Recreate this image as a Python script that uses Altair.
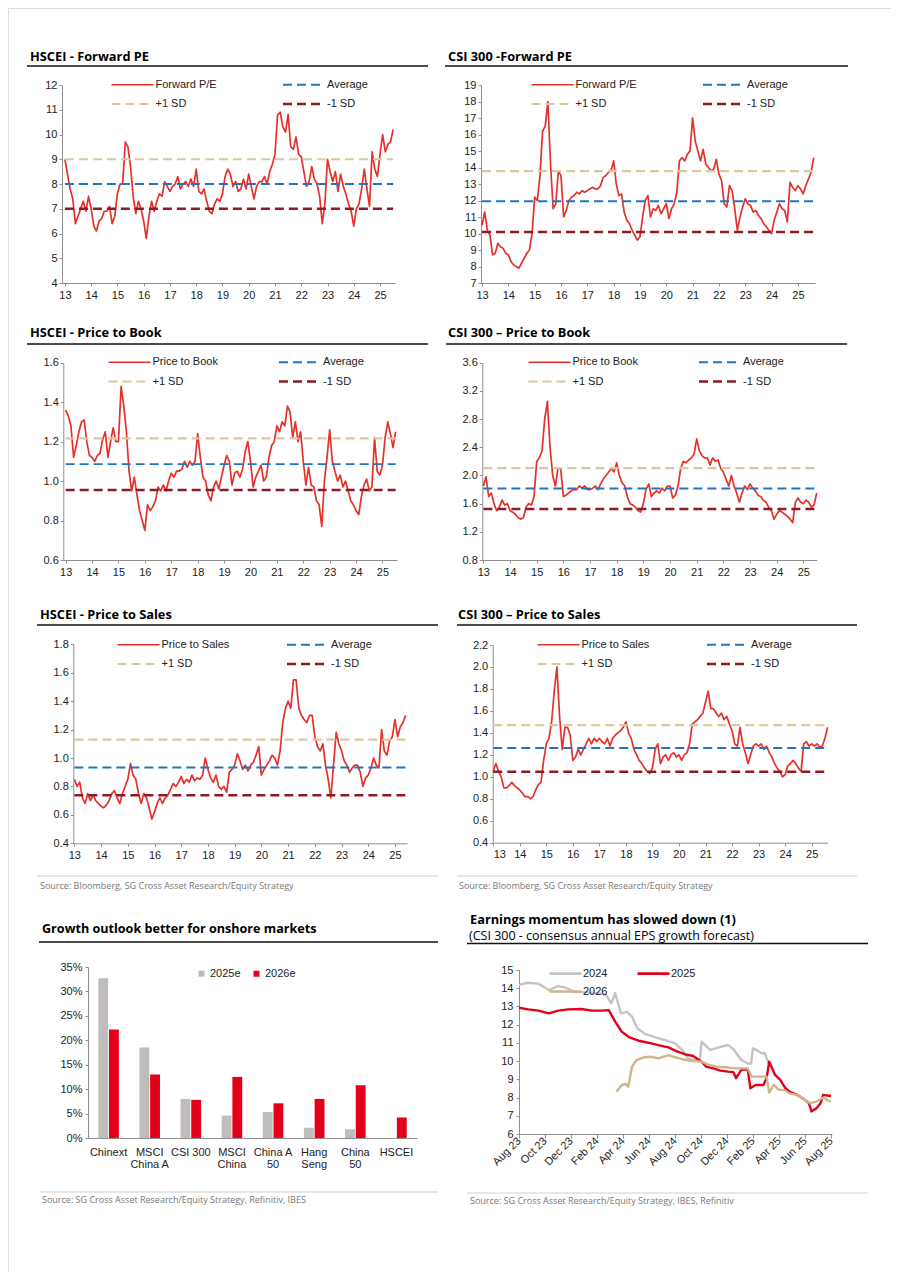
import altair as alt
import pandas as pd

# ---------------- data ----------------
YEARS = list(range(2013, 2026))
STEP = 0.1  # sampling grid of the valuation series, in years, starting 2013.0

hscei_pe = [
    9.0, 8.4, 7.8, 7.4, 6.4, 6.7, 7.0, 7.3, 6.9, 7.5,
    7.0, 6.3, 6.1, 6.5, 6.6, 6.9, 6.9, 7.1, 6.4, 6.7,
    7.6, 8.0, 8.0, 9.7, 9.5, 8.7, 7.5, 6.8, 7.3, 7.0,
    6.5, 5.8, 6.7, 7.3, 6.9, 7.3, 7.6, 7.5, 8.1, 7.9,
    7.7, 7.9, 8.0, 8.3, 7.8, 8.0, 8.1, 7.9, 8.2, 7.9,
    8.6, 7.7, 7.6, 7.8, 7.3, 6.9, 6.8, 7.2, 7.4, 7.3,
    7.6, 8.3, 8.6, 8.4, 7.9, 8.1, 7.7, 7.8, 8.2, 7.8,
    8.4, 7.9, 7.4, 7.9, 8.1, 8.1, 8.3, 8.0, 8.5, 8.8,
    9.2, 10.8, 10.9, 10.3, 10.1, 10.8, 9.5, 9.4, 9.9, 9.2,
    9.1, 8.5, 7.9, 8.1, 8.7, 8.2, 8.0, 7.5, 6.4, 7.2,
    9.0, 8.5, 8.1, 8.5, 7.7, 8.4, 7.9, 7.6, 7.2, 6.9,
    6.3, 7.0, 7.2, 7.8, 8.6, 7.8, 7.1, 9.3, 8.6, 8.3,
    9.2, 10.0, 9.3, 9.6, 9.7, 10.2]
csi_pe = [
    10.5, 11.3, 10.2, 9.9, 8.7, 8.8, 9.4, 9.2, 9.1, 8.8,
    8.7, 8.3, 8.1, 8.0, 7.9, 8.2, 8.5, 8.8, 9.0, 10.0,
    12.2, 12.0, 13.5, 16.2, 16.5, 18.0, 14.3, 11.5, 11.8, 13.8,
    13.5, 11.0, 11.4, 12.0, 12.2, 12.3, 12.5, 12.4, 12.6, 12.5,
    12.6, 12.7, 12.8, 12.7, 12.7, 12.9, 13.4, 13.5, 13.7, 13.8,
    14.4, 13.0, 12.3, 12.4, 11.3, 10.8, 10.6, 10.2, 9.9, 9.6,
    9.8, 11.0, 12.0, 12.3, 11.0, 11.5, 11.4, 11.7, 11.2, 11.5,
    11.8, 10.9, 11.5, 11.8, 12.5, 14.4, 14.6, 14.4, 14.8, 15.0,
    17.0, 15.6, 15.0, 14.4, 15.1, 14.2, 14.0, 13.8, 13.9, 14.5,
    13.6, 13.2, 11.8, 11.6, 12.9, 12.6, 11.5, 10.2, 11.0, 11.6,
    12.1, 11.8, 11.7, 11.3, 11.4, 11.1, 10.9, 10.6, 10.4, 10.2,
    10.0, 10.8, 11.3, 11.8, 11.5, 11.4, 10.7, 13.1, 12.8, 12.6,
    12.9, 12.7, 12.4, 12.9, 13.3, 13.7, 14.6]
hscei_pb = [
    1.36, 1.33, 1.28, 1.12, 1.18, 1.25, 1.30, 1.31, 1.20, 1.13,
    1.12, 1.10, 1.13, 1.14, 1.21, 1.25, 1.12, 1.20, 1.27, 1.20,
    1.20, 1.48, 1.38, 1.25, 1.05, 0.95, 1.02, 0.93, 0.85, 0.80,
    0.75, 0.88, 0.85, 0.87, 0.90, 0.97, 0.95, 0.98, 0.95, 1.00,
    1.04, 1.02, 1.05, 1.05, 1.06, 1.10, 1.07, 1.10, 1.08, 1.10,
    1.24, 1.12, 1.02, 1.00, 0.93, 0.90, 0.97, 1.00, 0.96, 1.02,
    1.08, 1.13, 1.10, 0.98, 1.04, 1.05, 1.02, 1.06, 1.15, 1.20,
    1.10, 0.97, 1.02, 1.05, 1.08, 1.00, 1.02, 1.12, 1.18, 1.20,
    1.28, 1.25, 1.30, 1.28, 1.38, 1.35, 1.22, 1.30, 1.20, 1.25,
    1.10, 0.98, 1.07, 0.98, 0.97, 0.90, 0.88, 0.77, 1.00, 1.12,
    1.26, 1.10, 1.05, 1.00, 1.03, 0.97, 1.00, 0.95, 0.90, 0.88,
    0.85, 0.83, 0.92, 0.98, 1.01, 0.95, 0.97, 1.22, 1.05, 1.03,
    1.08, 1.22, 1.30, 1.24, 1.17, 1.25]
csi_pb = [
    1.85, 1.98, 1.70, 1.75, 1.60, 1.50, 1.55, 1.65, 1.58, 1.60,
    1.50, 1.48, 1.45, 1.40, 1.38, 1.40, 1.55, 1.60, 1.58, 1.70,
    2.20, 2.25, 2.35, 2.80, 3.05, 2.40, 2.00, 1.85, 2.10, 2.10,
    1.70, 1.72, 1.75, 1.78, 1.80, 1.80, 1.85, 1.82, 1.85, 1.80,
    1.80, 1.82, 1.85, 1.80, 1.88, 1.95, 2.00, 2.05, 2.10, 2.05,
    2.18, 2.00, 1.90, 1.85, 1.70, 1.60, 1.58, 1.55, 1.50, 1.48,
    1.60, 1.80, 1.88, 1.70, 1.75, 1.78, 1.75, 1.82, 1.78, 1.85,
    1.85, 1.68, 1.72, 1.85, 2.10, 2.20, 2.18, 2.22, 2.25, 2.30,
    2.52, 2.35, 2.28, 2.25, 2.25, 2.15, 2.25, 2.20, 2.22, 2.10,
    2.05, 1.95, 1.85, 2.00, 1.85, 1.75, 1.62, 1.75, 1.85, 1.80,
    1.88, 1.82, 1.78, 1.72, 1.70, 1.65, 1.62, 1.55, 1.50, 1.38,
    1.45, 1.50, 1.48, 1.45, 1.42, 1.38, 1.33, 1.62, 1.68, 1.62,
    1.60, 1.65, 1.62, 1.55, 1.58, 1.75]
hscei_ps = [
    0.85, 0.80, 0.83, 0.72, 0.68, 0.75, 0.70, 0.74, 0.70, 0.68,
    0.66, 0.65, 0.67, 0.70, 0.75, 0.77, 0.72, 0.68, 0.75, 0.80,
    0.85, 0.96, 0.88, 0.85, 0.75, 0.68, 0.75, 0.72, 0.65, 0.57,
    0.62, 0.68, 0.72, 0.68, 0.72, 0.74, 0.78, 0.82, 0.80, 0.83,
    0.87, 0.82, 0.85, 0.83, 0.88, 0.84, 0.86, 0.85, 0.88, 1.00,
    0.92, 0.86, 0.83, 0.88, 0.80, 0.78, 0.80, 0.76, 0.90, 0.92,
    0.95, 1.03, 0.98, 0.92, 0.95, 0.91, 0.95, 0.97, 1.02, 1.08,
    0.88, 0.92, 0.95, 0.98, 1.02, 1.00, 0.95, 1.05, 1.25, 1.35,
    1.40, 1.35, 1.55, 1.55, 1.35, 1.30, 1.27, 1.25, 1.30, 1.30,
    1.15, 1.08, 1.05, 1.10, 0.95, 0.85, 0.72, 0.95, 1.18, 1.10,
    1.05, 0.98, 0.95, 0.90, 0.93, 0.95, 0.95, 0.90, 0.80, 0.86,
    0.88, 0.93, 1.00, 0.95, 0.93, 1.20, 1.05, 1.02, 1.12, 1.15,
    1.27, 1.15, 1.22, 1.25, 1.30]
csi_ps = [
    1.05, 1.12, 1.05, 1.00, 0.90, 0.90, 0.92, 0.95, 0.92, 0.90,
    0.88, 0.85, 0.82, 0.82, 0.80, 0.82, 0.88, 0.93, 0.95, 1.15,
    1.30, 1.35, 1.50, 1.78, 2.00, 1.55, 1.25, 1.45, 1.45, 1.38,
    1.15, 1.18, 1.25, 1.20, 1.25, 1.30, 1.35, 1.30, 1.35, 1.32,
    1.35, 1.32, 1.30, 1.35, 1.28, 1.35, 1.38, 1.40, 1.42, 1.45,
    1.50, 1.40, 1.35, 1.25, 1.20, 1.15, 1.12, 1.08, 1.05, 1.03,
    1.08, 1.25, 1.30, 1.12, 1.18, 1.20, 1.15, 1.20, 1.22, 1.18,
    1.20, 1.15, 1.20, 1.22, 1.30, 1.48, 1.50, 1.52, 1.55, 1.58,
    1.68, 1.78, 1.62, 1.62, 1.58, 1.55, 1.58, 1.52, 1.55, 1.48,
    1.42, 1.30, 1.28, 1.45, 1.30, 1.22, 1.12, 1.20, 1.28, 1.30,
    1.28, 1.30, 1.25, 1.28, 1.22, 1.18, 1.12, 1.08, 1.05, 1.00,
    1.02, 1.10, 1.12, 1.15, 1.12, 1.08, 1.05, 1.30, 1.32, 1.28,
    1.30, 1.28, 1.30, 1.27, 1.28, 1.35, 1.45]

# average, +1 SD, -1 SD
hscei_pe_bands = [8.0, 9.0, 7.0]
csi_pe_bands = [11.95, 13.78, 10.09]
hscei_pb_bands = [1.086, 1.217, 0.955]
csi_pb_bands = [1.815, 2.105, 1.525]
hscei_ps_bands = [0.933, 1.13, 0.738]
csi_ps_bands = [1.262, 1.47, 1.046]

bar_categories = ["Chinext", "MSCI|China A", "CSI 300", "MSCI|China", "China A|50",
                  "Hang|Seng", "China|50", "HSCEI"]
growth_2025e = [0.327, 0.185, 0.080, 0.046, 0.053, 0.021, 0.018, 0.0]
growth_2026e = [0.222, 0.130, 0.078, 0.125, 0.071, 0.080, 0.108, 0.042]

eps_tick_labels = ["Aug 23", "Oct 23", "Dec 23", "Feb 24", "Apr 24", "Jun 24", "Aug 24",
                   "Oct 24", "Dec 24", "Feb 25", "Apr 25", "Jun 25", "Aug 25"]
# months after Aug 2023
eps24_m = [0, 0.7, 1.5, 2.3, 3.0, 3.5, 4.3, 5.3, 6.4, 6.7, 7.1, 7.4, 7.85, 8.3, 8.7, 9.1,
           9.7, 10.5, 11.2, 12.0, 12.6, 13.0, 13.9, 14.05, 14.7, 15.1, 15.6, 16.1, 16.5,
           17.1, 17.6, 17.85, 18.0, 18.3, 18.7, 18.9, 19.2]
eps24_v = [14.18, 14.3, 14.25, 13.9, 14.12, 14.05, 13.8, 13.77, 13.68, 13.63, 13.17, 13.72,
           12.62, 12.7, 12.44, 11.8, 11.49, 11.3, 11.16, 10.97, 10.57, 10.15, 10.0, 11.07,
           10.61, 10.7, 10.8, 10.88, 10.65, 10.06, 9.87, 9.87, 10.7, 10.6, 10.42, 10.45, 9.87]
eps25_m = [0, 0.7, 1.5, 2.3, 3.0, 3.8, 4.8, 5.6, 6.4, 6.9, 7.4, 7.9, 8.5, 9.2, 9.95, 10.7,
           11.5, 12.1, 12.8, 13.4, 14.05, 14.4, 14.95, 15.5, 16.1, 16.5, 16.7, 17.1, 17.6,
           17.8, 18.2, 18.8, 19.05, 19.25, 19.7, 20.1, 20.5, 20.8, 21.4, 22.0, 22.3, 22.5,
           22.9, 23.2, 23.4, 23.8, 24.0]
eps25_v = [12.93, 12.84, 12.77, 12.62, 12.77, 12.84, 12.86, 12.77, 12.77, 12.8, 12.17, 11.62,
           11.3, 11.12, 11.01, 10.88, 10.75, 10.55, 10.37, 10.28, 9.97, 9.7, 9.6, 9.48, 9.42,
           9.39, 9.06, 9.52, 9.55, 8.51, 8.69, 8.69, 9.06, 9.97, 9.24, 8.97, 8.51, 8.33,
           8.15, 7.87, 7.69, 7.24, 7.42, 7.69, 8.15, 8.1, 8.1]
eps26_m = [7.5, 7.9, 8.2, 8.4, 8.7, 9.05, 9.6, 10.2, 10.7, 11.5, 11.9, 12.6, 13.15, 14.05,
           14.6, 15.2, 16.0, 16.6, 17.6, 17.9, 19.05, 19.25, 19.6, 19.95, 20.5, 20.8, 21.4,
           22.0, 22.4, 22.9, 23.4, 23.8, 24.0]
eps26_v = [8.32, 8.69, 8.75, 8.6, 9.7, 10.06, 10.21, 10.24, 10.15, 10.33, 10.24, 10.1, 10.02,
           9.97, 9.79, 9.7, 9.66, 9.6, 9.6, 9.15, 9.15, 8.27, 8.69, 8.45, 8.38, 8.23, 8.15,
           7.87, 7.69, 7.78, 8.0, 7.83, 7.78]

# ---------------- style / layout ----------------
OFF = 8          # page margin: page px -> chart px
W, H = 883, 1264
AX_FONT = "Liberation Sans"
T_FONT = "Open Sans"
RED, BLUE, BEIGE, DARKRED = "#e5312b", "#1f74c4", "#dcc79f", "#8e1b22"
ONE = pd.DataFrame({"k": [0]})
WIDE_STROKE = "M-2,0H2"   # legend line symbol twice as long as its nominal size


def axis_common(**kw):
    base = dict(grid=False, domainColor="#8f8f8f", tickColor="#8f8f8f", tickSize=3,
                labelFont=AX_FONT, labelFontSize=11, labelColor="#222222", title=None)
    base.update(kw)
    return alt.Axis(**base)


def ts_panel(values, label, bands, xdom, xr, ydom, yr, yticks, yfmt, lx, ly, colpad):
    t = [round(2013 + i * STEP, 2) for i in range(len(values))]
    rows = [{"t": a, "v": b, "s": label} for a, b in zip(t, values)]
    for name, val in zip(["Average", "+1 SD", "-1 SD"], bands):
        rows += [{"t": t[0], "v": val, "s": name}, {"t": t[-1], "v": val, "s": name}]
    df = pd.DataFrame(rows)
    order = [label, "Average", "+1 SD", "-1 SD"]
    leg = alt.Legend(orient="none", legendX=lx - OFF + 10.5, legendY=ly - OFF, columns=2,
                     direction="horizontal", columnPadding=colpad + 3.5, rowPadding=2, title=None,
                     symbolType=WIDE_STROKE, symbolSize=441, symbolStrokeWidth=2.4,
                     labelFont=AX_FONT, labelFontSize=11, labelColor="#222222", labelOffset=11)
    return alt.Chart(df).mark_line(strokeJoin="round").encode(
        x=alt.X("t:Q", title=None,
                scale=alt.Scale(domain=xdom, range=[xr[0] - OFF, xr[1] - OFF], nice=False, zero=False),
                axis=axis_common(orient="bottom", offset=yr[0] - OFF - H, values=YEARS,
                                 labelExpr="datum.value - 2000", labelPadding=3)),
        y=alt.Y("v:Q", title=None,
                scale=alt.Scale(domain=ydom, range=[yr[0] - OFF, yr[1] - OFF], nice=False, zero=False),
                axis=axis_common(orient="left", offset=-(xr[0] - OFF), values=yticks, format=yfmt,
                                 labelPadding=2)),
        color=alt.Color("s:N", scale=alt.Scale(domain=order, range=[RED, BLUE, BEIGE, DARKRED]),
                        legend=leg),
        strokeDash=alt.StrokeDash("s:N", scale=alt.Scale(domain=order,
                                                          range=[[1, 0], [9, 5], [9, 5], [9, 5]]),
                                  legend=leg),
        strokeWidth=alt.StrokeWidth("s:N", scale=alt.Scale(domain=order, range=[1.7, 2.5, 2.5, 2.5]),
                                    legend=None),
    )


def text(s, x, y, size, weight="normal", color="#000000", font=T_FONT):
    return alt.Chart(ONE).mark_text(text=s, align="left", baseline="alphabetic", fontSize=size,
                                    fontWeight=weight, color=color, font=font).encode(
        x=alt.value(x - OFF), y=alt.value(y - OFF))


def hrule(x1, x2, y, color="#111111", width=1.4):
    return alt.Chart(ONE).mark_rule(color=color, strokeWidth=width).encode(
        x=alt.value(x1 - OFF), x2=alt.value(x2 - OFF), y=alt.value(y - OFF))


LY1, LY2, LY3 = 73, 350.5, 633
p1 = ts_panel(hscei_pe, "Forward P/E", hscei_pe_bands, [2012.89, 2025.57], [62, 395],
              [4, 12], [283, 85], list(range(4, 13)), "d", 110, LY1, 57)
p2 = ts_panel(csi_pe, "Forward P/E", csi_pe_bands, [2012.96, 2025.65], [481, 815],
              [7, 19], [283, 85], list(range(7, 20)), "d", 530, LY1, 57)
p3 = ts_panel(hscei_pb, "Price to Book", hscei_pb_bands, [2012.91, 2025.55], [63.3, 397],
              [0.6, 1.6], [560, 362.7], [0.6, 0.8, 1.0, 1.2, 1.4, 1.6], ".1f", 107, LY2, 52)
p4 = ts_panel(csi_pb, "Price to Book", csi_pb_bands, [2012.96, 2025.5], [482.3, 816.7],
              [0.8, 3.6], [560, 362.7], [0.8, 1.2, 1.6, 2.0, 2.4, 2.8, 3.2, 3.6], ".1f", 527, LY2, 52)
p5 = ts_panel(hscei_ps, "Price to Sales", hscei_ps_bands, [2012.96, 2025.45], [73.3, 407],
              [0.4, 1.8], [843.3, 644.3], [0.4, 0.6, 0.8, 1.0, 1.2, 1.4, 1.6, 1.8], ".1f", 116, LY3, 49)
p6 = ts_panel(csi_ps, "Price to Sales", csi_ps_bands, [2012.98, 2025.6], [492.7, 827.6],
              [0.4, 2.2], [842.7, 645], [0.4, 0.6, 0.8, 1.0, 1.2, 1.4, 1.6, 1.8, 2.0, 2.2], ".1f",
              536, LY3, 49)

# bar chart
bar_rows = []
for c, a, b in zip(bar_categories, growth_2025e, growth_2026e):
    bar_rows += [{"cat": c, "yr": "2025e", "g": a}, {"cat": c, "yr": "2026e", "g": b}]
bars = alt.Chart(pd.DataFrame(bar_rows)).mark_bar().encode(
    x=alt.X("cat:N", sort=bar_categories, title=None,
            scale=alt.Scale(domain=bar_categories, range=[88 - OFF, 417 - OFF],
                            paddingInner=0.5, paddingOuter=0.25),
            axis=axis_common(orient="bottom", offset=(1138 - OFF) - H, labelAngle=0, ticks=False,
                             labelExpr="split(datum.label, '|')", labelPadding=8,
                             labelLineHeight=12)),
    xOffset=alt.XOffset("yr:N", sort=["2025e", "2026e"], scale=alt.Scale(paddingInner=0.08)),
    y=alt.Y("g:Q", title=None,
            scale=alt.Scale(domain=[0, 0.35], range=[1138 - OFF, 967 - OFF], nice=False),
            axis=axis_common(orient="left", offset=-(88 - OFF),
                             values=[0, 0.05, 0.10, 0.15, 0.20, 0.25, 0.30, 0.35], format=".0%",
                             labelPadding=3)),
    color=alt.Color("yr:N", scale=alt.Scale(domain=["2025e", "2026e"], range=["#c0bcbc", "#e2001a"]),
                    legend=alt.Legend(orient="none", legendX=196 - OFF, legendY=968 - OFF,
                                      direction="horizontal", title=None, symbolType="square",
                                      symbolSize=36, symbolStrokeWidth=0, labelOffset=3,
                                      columnPadding=10, labelFont=AX_FONT, labelFontSize=11,
                                      labelColor="#222222")),
)

# EPS growth forecast lines
eps_rows = ([{"m": a, "v": b, "s": "2024"} for a, b in zip(eps24_m, eps24_v)] +
            [{"m": a, "v": b, "s": "2025"} for a, b in zip(eps25_m, eps25_v)] +
            [{"m": a, "v": b, "s": "2026"} for a, b in zip(eps26_m, eps26_v)])
eps_label_expr = "[" + ",".join("'%s'" % s for s in eps_tick_labels) + "][round(datum.value / 2)]"
eps = alt.Chart(pd.DataFrame(eps_rows)).mark_line(strokeWidth=2.4, strokeJoin="round").encode(
    x=alt.X("m:Q", title=None,
            scale=alt.Scale(domain=[0, 24.08], range=[519 - OFF, 832 - OFF], nice=False, zero=False),
            axis=axis_common(orient="bottom", offset=(1134 - OFF) - H, values=list(range(0, 25, 2)),
                             labelExpr=eps_label_expr, labelAngle=-45, labelAlign="right",
                             labelBaseline="middle", tickSize=4, labelPadding=1,
                             labelOverlap=False)),
    y=alt.Y("v:Q", title=None,
            scale=alt.Scale(domain=[6, 15], range=[1134 - OFF, 970 - OFF], nice=False, zero=False),
            axis=axis_common(orient="left", offset=-(519 - OFF), values=list(range(6, 16)),
                             labelPadding=3)),
    color=alt.Color("s:N", scale=alt.Scale(domain=["2024", "2025", "2026"],
                                           range=["#c4c4c4", "#e2001a", "#cdb68c"]),
                    legend=alt.Legend(orient="none", legendX=548 - OFF + 8, legendY=964 - OFF,
                                      columns=2, direction="horizontal", columnPadding=24,
                                      rowPadding=3, title=None,
                                      symbolType=WIDE_STROKE, symbolSize=256, symbolStrokeWidth=2.6,
                                      labelFont=AX_FONT, labelFontSize=11, labelColor="#222222",
                                      labelOffset=8)),
)

SRC1 = "Source: Bloomberg, SG Cross Asset Research/Equity Strategy"
SRC_SIZE = 9
TS = 12.8
deco = [
    text("HSCEI - Forward PE", 30, 60.5, TS, "bold"),
    text("CSI 300 -Forward PE", 448, 60.5, TS, "bold"),
    text("HSCEI - Price to Book", 30, 337, TS, "bold"),
    text("CSI 300 \u2013 Price to Book", 448, 337, TS, "bold"),
    text("HSCEI - Price to Sales", 40, 619, TS, "bold"),
    text("CSI 300 \u2013 Price to Sales", 458, 619, TS, "bold"),
    text("Growth outlook better for onshore markets", 42, 932.5, 12.6, "bold"),
    text("Earnings momentum has slowed down (1)", 470, 924, TS, "bold"),
    text("(CSI 300 - consensus annual EPS growth forecast)", 469, 939.5, 12.5),
    hrule(27, 428, 66), hrule(445, 848, 66),
    hrule(27, 428, 344), hrule(446, 847, 344),
    hrule(37, 438, 625), hrule(457, 857, 625),
    hrule(39, 438, 942), hrule(467, 868, 943.5),
    hrule(37, 438, 876, "#cfcfcf", 1), hrule(457, 857, 876, "#cfcfcf", 1),
    hrule(39, 438, 1192, "#cfcfcf", 1), hrule(467, 868, 1193, "#cfcfcf", 1),
    text(SRC1, 40, 888.5, SRC_SIZE, color="#777777"),
    text(SRC1, 459, 888.5, SRC_SIZE, color="#777777"),
    text("Source: SG Cross Asset Research/Equity Strategy, Refinitiv, IBES", 42, 1203, SRC_SIZE,
         color="#777777"),
    text("Source: SG Cross Asset Research/Equity Strategy, IBES, Refinitiv", 470, 1204, SRC_SIZE,
         color="#777777"),
]

chart = alt.layer(p1, p2, p3, p4, p5, p6, bars, eps, *deco).resolve_scale(
    x="independent", y="independent", color="independent", strokeDash="independent",
    strokeWidth="independent", xOffset="independent"
).resolve_axis(x="independent", y="independent").resolve_legend(
    color="independent", strokeDash="independent"
).properties(
    width=W, height=H, padding=0, autosize=alt.AutoSizeParams(type="none")
).configure_view(stroke=None).configure(background="white")

chart.save("out.html", embed_options={"renderer": "svg", "actions": False})
